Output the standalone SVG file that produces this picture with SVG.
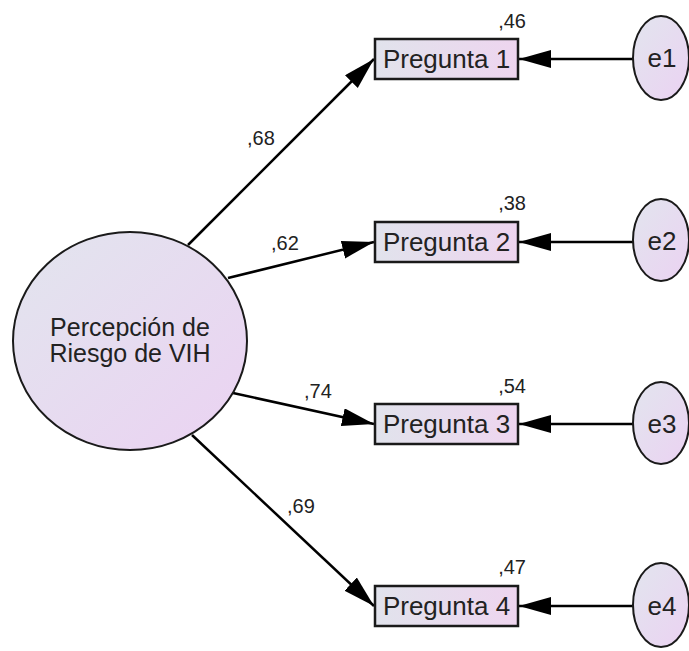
<svg xmlns="http://www.w3.org/2000/svg" width="689" height="651" viewBox="0 0 689 651">
<style>
text{font-family:"Liberation Sans",Arial,sans-serif;fill:#222}
.nodeT{font-size:26px;text-anchor:middle}
.latT{font-size:25px;text-anchor:middle}
.lbl{font-size:20px}
.r2{font-size:20px;text-anchor:end}
.obs{stroke:#1a1a1a;stroke-width:2.5;fill:url(#gr)}
.lat{stroke:#1a1a1a;stroke-width:2;fill:url(#gc)}
.edge{stroke:#000;stroke-width:2.5;fill:none;marker-end:url(#ah)}
</style>
<defs>
<linearGradient id="gr" x1="0" y1="0" x2="1" y2="0">
<stop offset="0" stop-color="#e1e3ec"/>
<stop offset="1" stop-color="#eed5ef"/>
</linearGradient>
<linearGradient id="gc" x1="0" y1="0" x2="1" y2="1">
<stop offset="0" stop-color="#e2e5ee"/>
<stop offset="1" stop-color="#ebd2f2"/>
</linearGradient>
<marker id="ah" markerUnits="userSpaceOnUse" markerWidth="33" markerHeight="19" refX="32" refY="9" orient="auto">
<path d="M0,0 L32,9 L0,18 z" fill="#000"/>
</marker>
</defs>
<rect width="689" height="651" fill="#fff"/>
<g id="connectors">
<line class="edge" x1="188" y1="245" x2="374" y2="59"/>
<line class="edge" x1="228" y1="278" x2="374" y2="242"/>
<line class="edge" x1="233" y1="393" x2="374" y2="424"/>
<line class="edge" x1="192" y1="435" x2="374" y2="606"/>
<line class="edge" x1="633" y1="59" x2="519" y2="59"/>
<line class="edge" x1="633" y1="242" x2="519" y2="242"/>
<line class="edge" x1="633" y1="424" x2="519" y2="424"/>
<line class="edge" x1="633" y1="606" x2="519" y2="606"/>
<text class="lbl" x="247" y="145">,68</text>
<text class="lbl" x="271" y="250">,62</text>
<text class="lbl" x="304" y="398">,74</text>
<text class="lbl" x="287" y="513">,69</text>
</g>
<g id="latent">
<ellipse class="lat" cx="130" cy="341" rx="117" ry="109"/>
<text class="latT" x="130" y="336">Percepción de</text>
<text class="latT" x="130" y="362">Riesgo de VIH</text>
</g>
<g id="p1">
<rect class="obs" x="375" y="39" width="143" height="40"/>
<text class="nodeT" x="446.5" y="68">Pregunta 1</text>
<text class="r2" x="526" y="28">,46</text>
</g>
<g id="p2">
<rect class="obs" x="375" y="222" width="143" height="40"/>
<text class="nodeT" x="446.5" y="251">Pregunta 2</text>
<text class="r2" x="526" y="210">,38</text>
</g>
<g id="p3">
<rect class="obs" x="375" y="404" width="143" height="40"/>
<text class="nodeT" x="446.5" y="433">Pregunta 3</text>
<text class="r2" x="526" y="393">,54</text>
</g>
<g id="p4">
<rect class="obs" x="375" y="586" width="143" height="40"/>
<text class="nodeT" x="446.5" y="615">Pregunta 4</text>
<text class="r2" x="526" y="574">,47</text>
</g>
<g id="e1">
<ellipse class="lat" cx="661" cy="58" rx="28" ry="42"/>
<text class="nodeT" x="662" y="67">e1</text>
</g>
<g id="e2">
<ellipse class="lat" cx="661" cy="240" rx="28" ry="41"/>
<text class="nodeT" x="662" y="250">e2</text>
</g>
<g id="e3">
<ellipse class="lat" cx="661" cy="423" rx="28" ry="41"/>
<text class="nodeT" x="662" y="433">e3</text>
</g>
<g id="e4">
<ellipse class="lat" cx="661" cy="605" rx="28" ry="42"/>
<text class="nodeT" x="662" y="615">e4</text>
</g>
</svg>
